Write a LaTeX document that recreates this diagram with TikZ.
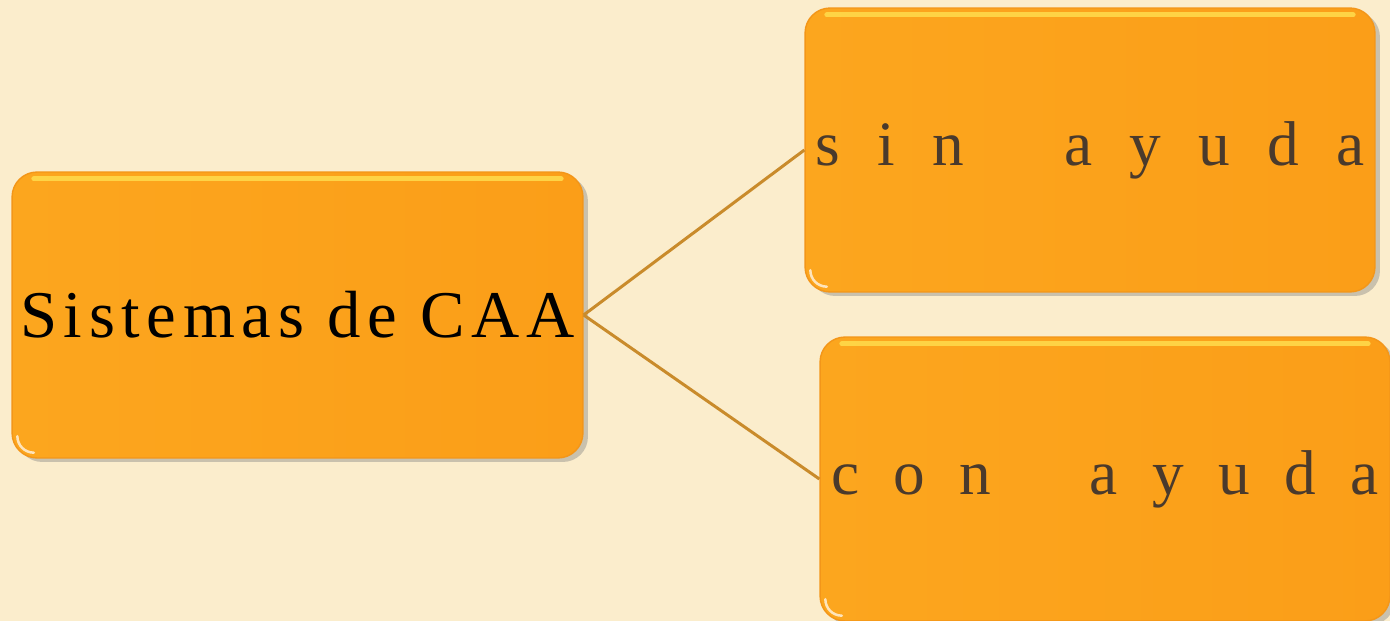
\documentclass[tikz,border=0pt]{standalone}
\usepackage{fontspec}
\setmainfont{Liberation Serif}
\newfontfamily\spacedfont{Liberation Serif}[LetterSpace=10]
\usetikzlibrary{shadows}
\usepackage{xcolor}
\definecolor{paper}{HTML}{FBEDCC}
\definecolor{tileorange}{HTML}{FB9E18}
\definecolor{tilelight}{HTML}{FCA61E}
\definecolor{tileedge}{HTML}{F39619}
\definecolor{tilerim}{HTML}{FFD94A}
\definecolor{linkgold}{HTML}{C98B2B}
\definecolor{inkbrown}{HTML}{4A3A2C}
\newcommand{\tile}[4] {
    \node[tile,#4] (#1) at (#2) {#3};
    \draw[rim] ([xshift=0.45cm,yshift=-0.15cm]#1.north west) -- ([xshift=-0.45cm,yshift=-0.15cm]#1.north east);
    \draw[glint] ([xshift=0.12cm,yshift=0.45cm]#1.south west) to[out=-90,in=180] ([xshift=0.45cm,yshift=0.12cm]#1.south west);
}
\newcommand{\spread}[2] {\makebox[#1][s]{#2}}

\begin{document}
\begin{tikzpicture}[x=0.02cm,y=-0.02cm]
    \tikzset{
        tile/.style={
            rounded corners=0.5cm,
            minimum width=11.4cm,
            minimum height=5.68cm,
            inner sep=0pt,
            draw=tileedge,
            line width=0.8pt,
            left color=tilelight,
            right color=tileorange,
            drop shadow={shadow xshift=0.1cm,shadow yshift=-0.08cm,opacity=0.4}
        },
        rim/.style={tilerim,line width=0.1cm,line cap=round,opacity=0.9},
        glint/.style={white,line width=0.05cm,line cap=round,opacity=0.7},
        link/.style={linkgold,line width=0.06cm},
        big/.style={font=\spacedfont\fontsize{38}{40}\selectfont},
        small/.style={font=\fontsize{36}{40}\selectfont,text=inkbrown}
    }
    \fill[paper] (0,0) rectangle (1390,621);
    \useasboundingbox (0,0) rectangle (1390,621);
    \clip (0,0) rectangle (1390,621);
    % root
    \tile{root}{297.5,315}{Sistemas de CAA}{big,minimum width=11.42cm,minimum height=5.72cm}
    % branches
    \tile{sin}{1090,150}{\spread{11cm}{s i n\hspace{1em} a y u d a}}{small}
    \tile{con}{1105,479}{\spread{10.96cm}{c o n\hspace{1em} a y u d a}}{small}
    \draw[link] (root.east) -- (sin.west);
    \draw[link] (root.east) -- (con.west);
\end{tikzpicture}
\end{document}
